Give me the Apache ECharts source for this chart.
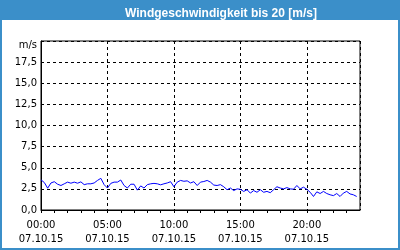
<!DOCTYPE html>
<html><head><meta charset="utf-8">
<script src="https://cdn.jsdelivr.net/npm/echarts@6/dist/echarts.min.js"></script>
<style>html,body{margin:0;padding:0;background:#3b8fc9}#c{width:400px;height:250px}</style>
</head><body><div id="c"></div>
<script>
const titleText = 'Windgeschwindigkeit bis 20 [m/s]';
const yUnit = 'm/s';
const dateLabel = '07.10.15';
const xTickHours = [0, 5, 10, 15, 20];
const xTickLabels = ['00:00', '05:00', '10:00', '15:00', '20:00'];
const stepHours = 0.25; // one reading every 15 minutes, starting 00:00
const windSpeed = [
  3.57, 3.25, 2.58, 3.2, 3.35, 3.05, 2.9, 3.1, 3.3, 3.17, 3.3, 3.17,
  3.33, 3.0, 3.1, 3.1, 3.2, 3.5, 3.75, 3.0, 2.6, 3.15, 3.3, 3.3,
  3.55, 2.9, 2.6, 3.05, 3.05, 2.35, 2.85, 2.6, 3.0, 3.1, 3.15, 3.1,
  2.98, 3.1, 3.2, 3.35, 2.75, 3.3, 3.5, 3.4, 3.45, 3.2, 3.35, 2.9,
  3.3, 3.37, 3.5, 3.3, 2.95, 2.9, 3.0, 2.75, 2.4, 2.6, 2.3, 2.5,
  2.45, 2.2, 2.4, 2.0, 2.3, 2.1, 2.4, 2.1, 2.2, 2.05, 2.4, 2.75,
  2.6, 2.5, 2.65, 2.5, 2.46, 2.9, 2.5, 2.7, 2.45, 2.1, 1.6, 2.15,
  1.95, 2.2, 1.95, 1.8, 1.7, 1.95, 1.6, 2.0, 2.2, 1.9, 1.8, 1.6
];
const seriesData = windSpeed.map((v, i) => [i * stepHours, v]);
const font = 'DejaVu Sans';

const chart = echarts.init(document.getElementById('c'));
chart.setOption({
  animation: false,
  backgroundColor: '#3b8fc9',
  title: {
    text: titleText, left: 216, top: 3, textAlign: 'center',
    textStyle: {color: '#fff', fontFamily: 'Liberation Sans', fontWeight: 'bold', fontSize: 12}
  },
  graphic: [{type: 'rect', shape: {x: 2, y: 20, width: 396, height: 228}, style: {fill: '#fff'}, z: -10, silent: true}],
  grid: {left: 41, right: 40, top: 41, bottom: 40, show: true, borderColor: '#000', borderWidth: 1, backgroundColor: '#fff'},
  xAxis: [{
    type: 'value', min: 0, max: 24, interval: 1,
    axisLine: {show: true, lineStyle: {color: '#000', width: 1}},
    axisTick: {show: true, length: 3, lineStyle: {color: '#000'}},
    splitLine: {show: false},
    axisLabel: {
      color: '#000', fontFamily: font, fontSize: 10, lineHeight: 14, margin: 8, showMaxLabel: false,
      formatter: v => { const k = xTickHours.indexOf(v); return k >= 0 ? xTickLabels[k] + '\n' + dateLabel : ''; }
    }
  }, {
    type: 'value', min: 0, max: 24, interval: 5, position: 'bottom',
    axisLine: {show: false}, axisTick: {show: false}, axisLabel: {show: false},
    splitLine: {show: true, lineStyle: {color: '#000', type: [3, 3], width: 1}}
  }],
  yAxis: {
    type: 'value', min: 0, max: 20, interval: 2.5,
    axisLine: {show: true, lineStyle: {color: '#000'}},
    axisTick: {show: false},
    splitLine: {show: true, lineStyle: {color: '#000', type: [3, 3], width: 1}},
    axisLabel: {
      color: '#000', fontFamily: font, fontSize: 10, margin: 4,
      formatter: v => v >= 20 ? '{u|' + yUnit + '}' : v.toFixed(1).replace('.', ','),
      rich: {u: {fontFamily: font, fontSize: 10, color: '#000', padding: [8, 0, 0, 0]}}
    }
  },
  series: [{
    type: 'line', data: seriesData, xAxisIndex: 0, showSymbol: false, symbol: 'none',
    lineStyle: {color: '#0000ff', width: 1}
  }]
});
</script></body></html>
